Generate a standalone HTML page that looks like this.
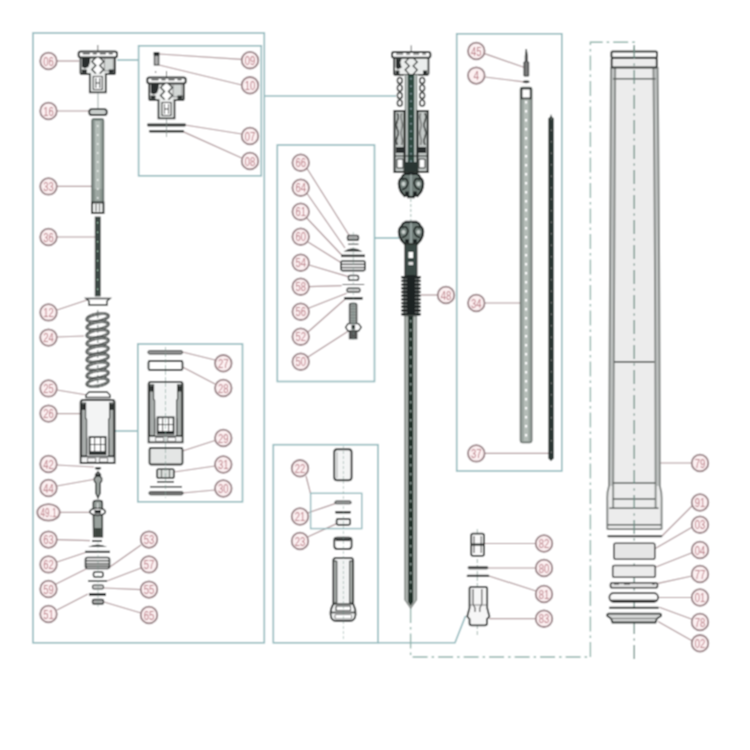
<!DOCTYPE html>
<html><head><meta charset="utf-8"><style>
html,body{margin:0;padding:0;background:#fff;}
svg{display:block;}
text{font-family:"Liberation Sans",sans-serif;}
</style></head><body>
<svg width="750" height="750" viewBox="0 0 750 750">
<defs><filter id="bl" x="0" y="0" width="1" height="1"><feConvolveMatrix order="3" kernelMatrix="1 2 1 2 4 2 1 2 1" divisor="16" edgeMode="duplicate"/></filter></defs>
<g filter="url(#bl)">
<rect width="750" height="750" fill="#fff"/>
<rect x="33" y="33" width="231.3" height="609.8" fill="none" stroke="#92b9bd" stroke-width="1.6" />
<rect x="138.6" y="45.8" width="122.70000000000002" height="130.0" fill="none" stroke="#92b9bd" stroke-width="1.6" />
<line x1="117" y1="60" x2="138.6" y2="60" stroke="#92b9bd" stroke-width="1.6" />
<rect x="137.8" y="344" width="104.69999999999999" height="157.8" fill="none" stroke="#92b9bd" stroke-width="1.6" />
<line x1="114" y1="431" x2="137.8" y2="431" stroke="#92b9bd" stroke-width="1.6" />
<rect x="277.3" y="145" width="97.19999999999999" height="236.5" fill="none" stroke="#92b9bd" stroke-width="1.6" />
<line x1="374.5" y1="238" x2="399" y2="238" stroke="#92b9bd" stroke-width="1.6" />
<line x1="264.3" y1="96" x2="396" y2="96" stroke="#92b9bd" stroke-width="1.6" />
<rect x="273.3" y="444.7" width="104.69999999999999" height="198.09999999999997" fill="none" stroke="#92b9bd" stroke-width="1.6" />
<polyline points="378,642.8 455,642.8 465.5,616" fill="none" stroke="#92b9bd" stroke-width="1.6" />
<rect x="456.7" y="33.8" width="105.09999999999997" height="437.2" fill="none" stroke="#92b9bd" stroke-width="1.6" />
<polyline points="590.4,657 590.4,42.3 634.3,42.3 634.3,50" fill="none" stroke="#8fb3aa" stroke-width="1.4" stroke-dasharray="15,4,2.5,4"/>
<polyline points="410.6,608 410.6,657 590.4,657" fill="none" stroke="#8fb3aa" stroke-width="1.4" stroke-dasharray="15,4,2.5,4"/>
<polyline points="56.8,61 79,61" fill="none" stroke="#ae9598" stroke-width="1.2" />
<polyline points="56.8,111 89,111" fill="none" stroke="#ae9598" stroke-width="1.2" />
<polyline points="56.8,186.4 92,186.4" fill="none" stroke="#ae9598" stroke-width="1.2" />
<polyline points="56.8,237 95,237" fill="none" stroke="#ae9598" stroke-width="1.2" />
<polyline points="57,310 87,300" fill="none" stroke="#ae9598" stroke-width="1.2" />
<polyline points="56.8,337 84,336" fill="none" stroke="#ae9598" stroke-width="1.2" />
<polyline points="57,390 87,395" fill="none" stroke="#ae9598" stroke-width="1.2" />
<polyline points="56.8,413.6 80,413.6" fill="none" stroke="#ae9598" stroke-width="1.2" />
<polyline points="56.8,465 94,467" fill="none" stroke="#ae9598" stroke-width="1.2" />
<polyline points="56.8,486 96,479" fill="none" stroke="#ae9598" stroke-width="1.2" />
<polyline points="59.5,512.4 90,512.4" fill="none" stroke="#ae9598" stroke-width="1.2" />
<polyline points="56.8,539.6 90,540.6" fill="none" stroke="#ae9598" stroke-width="1.2" />
<polyline points="57,562 87,552" fill="none" stroke="#ae9598" stroke-width="1.2" />
<polyline points="54,585 88,568" fill="none" stroke="#ae9598" stroke-width="1.2" />
<polyline points="57,610 88,594" fill="none" stroke="#ae9598" stroke-width="1.2" />
<polyline points="141,545 107,569" fill="none" stroke="#ae9598" stroke-width="1.2" />
<polyline points="141,568 107,581" fill="none" stroke="#ae9598" stroke-width="1.2" />
<polyline points="141,589.6 104,588" fill="none" stroke="#ae9598" stroke-width="1.2" />
<polyline points="141,613 104,602" fill="none" stroke="#ae9598" stroke-width="1.2" />
<polyline points="159,54 241.7,59.4" fill="none" stroke="#ae9598" stroke-width="1.2" />
<polyline points="159,65 241.7,85" fill="none" stroke="#ae9598" stroke-width="1.2" />
<polyline points="185,125 241.7,134" fill="none" stroke="#ae9598" stroke-width="1.2" />
<polyline points="183,131.6 241.7,158" fill="none" stroke="#ae9598" stroke-width="1.2" />
<polyline points="182.5,352 215,360" fill="none" stroke="#ae9598" stroke-width="1.2" />
<polyline points="182.5,367 215,384" fill="none" stroke="#ae9598" stroke-width="1.2" />
<polyline points="182.5,451 215,440.5" fill="none" stroke="#ae9598" stroke-width="1.2" />
<polyline points="174,472 215,466" fill="none" stroke="#ae9598" stroke-width="1.2" />
<polyline points="182.5,493 215,490" fill="none" stroke="#ae9598" stroke-width="1.2" />
<polyline points="306.7,168 350,236.7" fill="none" stroke="#ae9598" stroke-width="1.2" />
<polyline points="306.7,193 345,248" fill="none" stroke="#ae9598" stroke-width="1.2" />
<polyline points="306.7,218 341.7,255" fill="none" stroke="#ae9598" stroke-width="1.2" />
<polyline points="308,242 341.7,263" fill="none" stroke="#ae9598" stroke-width="1.2" />
<polyline points="309,265 348.3,276.7" fill="none" stroke="#ae9598" stroke-width="1.2" />
<polyline points="309,286.7 341.7,285.7" fill="none" stroke="#ae9598" stroke-width="1.2" />
<polyline points="309,308 346.7,293.3" fill="none" stroke="#ae9598" stroke-width="1.2" />
<polyline points="308,332 345,299.3" fill="none" stroke="#ae9598" stroke-width="1.2" />
<polyline points="308,357 350,330" fill="none" stroke="#ae9598" stroke-width="1.2" />
<polyline points="306,476 310.6,493.8" fill="none" stroke="#ae9598" stroke-width="1.2" />
<polyline points="307.5,513 335,503.6" fill="none" stroke="#ae9598" stroke-width="1.2" />
<polyline points="307.5,537 336.7,523.6" fill="none" stroke="#ae9598" stroke-width="1.2" />
<polyline points="421,295 437.7,295" fill="none" stroke="#ae9598" stroke-width="1.2" />
<polyline points="484.7,53.6 524.5,67.5" fill="none" stroke="#ae9598" stroke-width="1.2" />
<polyline points="484.7,77 523.7,81.8" fill="none" stroke="#ae9598" stroke-width="1.2" />
<polyline points="484.6,303 523.6,303" fill="none" stroke="#ae9598" stroke-width="1.2" />
<polyline points="484.6,453.4 549.7,453.4" fill="none" stroke="#ae9598" stroke-width="1.2" />
<polyline points="484,543.5 535.7,543.5" fill="none" stroke="#ae9598" stroke-width="1.2" />
<polyline points="488,568 535.7,568" fill="none" stroke="#ae9598" stroke-width="1.2" />
<polyline points="489,576 536,591" fill="none" stroke="#ae9598" stroke-width="1.2" />
<polyline points="489.3,618.7 535.7,618.7" fill="none" stroke="#ae9598" stroke-width="1.2" />
<polyline points="655,463 691.7,463" fill="none" stroke="#ae9598" stroke-width="1.2" />
<polyline points="662,536 692,506" fill="none" stroke="#ae9598" stroke-width="1.2" />
<polyline points="654.8,548.7 692,527.3" fill="none" stroke="#ae9598" stroke-width="1.2" />
<polyline points="655.3,567.3 692,552.7" fill="none" stroke="#ae9598" stroke-width="1.2" />
<polyline points="658,583.3 692,576" fill="none" stroke="#ae9598" stroke-width="1.2" />
<polyline points="658,597.5 691.7,597.5" fill="none" stroke="#ae9598" stroke-width="1.2" />
<polyline points="659.3,607.3 692,619.3" fill="none" stroke="#ae9598" stroke-width="1.2" />
<polyline points="658,621.5 692,640.7" fill="none" stroke="#ae9598" stroke-width="1.2" />
<g transform="translate(97.8,51)">
<path d="M-17.3,6 V21.5 Q-17.3,23.2 -15.5,23.2 H-8 V41.3 H8 V23.2 H15.5 Q17.3,23.2 17.3,21.5 V6" fill="#eceeed" stroke="#2b2f2d" stroke-width="1.8"/>
<rect x="-19.2" y="0.6" width="38.4" height="5.8" rx="2.2" fill="#fff" stroke="#2b2f2d" stroke-width="2"/>
<path d="M-15,2.6 h7 M-5,2.6 h4 M2,2.6 h6 M11,2.6 h4" stroke="#2b2f2d" stroke-width="1.1"/>
<rect x="6.5" y="7.5" width="9" height="12.5" fill="#d3d7d5" stroke="#777" stroke-width="0.8"/>
<path d="M-15.8,6.5 L-7.5,6.5 L-8,12 L-9.5,16 L-13,17.5 L-15.8,16 Z" fill="#2b2f2d"/>
<path d="M-16,18.5 h5 v4 h-5z M11,18.5 h5 v4 h-5z" fill="#2b2f2d"/>
<path d="M-2,6.5 L-6,10.5 -2,14.5 -6,18.5 -2,22.5 M2,6.5 L6,10.5 2,14.5 6,18.5 2,22.5" fill="none" stroke="#2b2f2d" stroke-width="1.3"/>
<path d="M-0.5,6.5 L-4,10.5 -0.5,14.5 -4,18.5 -0.5,22.5 H0.5 L4,18.5 0.5,14.5 4,10.5 0.5,6.5 Z" fill="#fff"/>
<rect x="-4.5" y="25.5" width="9" height="13" fill="#fff" stroke="#2b2f2d" stroke-width="1.1"/>
<path d="M-2,27 V37 M2,27 V37 M-2,32 H2" stroke="#2b2f2d" stroke-width="0.9"/>
<line x1="0" y1="-6" x2="0" y2="0.5" stroke="#2b2f2d" stroke-width="0.7"/>
</g>
<g transform="translate(166.5,77)">
<path d="M-17.3,6 V21.5 Q-17.3,23.2 -15.5,23.2 H-8 V41.3 H8 V23.2 H15.5 Q17.3,23.2 17.3,21.5 V6" fill="#eceeed" stroke="#2b2f2d" stroke-width="1.8"/>
<rect x="-19.2" y="0.6" width="38.4" height="5.8" rx="2.2" fill="#fff" stroke="#2b2f2d" stroke-width="2"/>
<path d="M-15,2.6 h7 M-5,2.6 h4 M2,2.6 h6 M11,2.6 h4" stroke="#2b2f2d" stroke-width="1.1"/>
<rect x="6.5" y="7.5" width="9" height="12.5" fill="#d3d7d5" stroke="#777" stroke-width="0.8"/>
<path d="M-15.8,6.5 L-7.5,6.5 L-8,12 L-9.5,16 L-13,17.5 L-15.8,16 Z" fill="#2b2f2d"/>
<path d="M-16,18.5 h5 v4 h-5z M11,18.5 h5 v4 h-5z" fill="#2b2f2d"/>
<path d="M-2,6.5 L-6,10.5 -2,14.5 -6,18.5 -2,22.5 M2,6.5 L6,10.5 2,14.5 6,18.5 2,22.5" fill="none" stroke="#2b2f2d" stroke-width="1.3"/>
<path d="M-0.5,6.5 L-4,10.5 -0.5,14.5 -4,18.5 -0.5,22.5 H0.5 L4,18.5 0.5,14.5 4,10.5 0.5,6.5 Z" fill="#fff"/>
<rect x="-4.5" y="25.5" width="9" height="13" fill="#fff" stroke="#2b2f2d" stroke-width="1.1"/>
<path d="M-2,27 V37 M2,27 V37 M-2,32 H2" stroke="#2b2f2d" stroke-width="0.9"/>
<line x1="0" y1="-6" x2="0" y2="0.5" stroke="#2b2f2d" stroke-width="0.7"/>
</g>
<line x1="98" y1="93" x2="98" y2="109" stroke="#7a8a85" stroke-width="0.7" />
<rect x="89.2" y="109.2" width="17.6" height="5.8" rx="2.6" fill="#c9cecc" stroke="#2b2f2d" stroke-width="1.8"/>
<rect x="92" y="119" width="11.5" height="84" rx="1.5" fill="#8f9a95" stroke="#56625d" stroke-width="1.4"/>
<rect x="95" y="121" width="5.5" height="80" fill="#b4bdb8"/>
<line x1="92.5" y1="190" x2="103" y2="190" stroke="#6d7873" stroke-width="0.6" />
<line x1="92.5" y1="192" x2="103" y2="192" stroke="#6d7873" stroke-width="0.6" />
<line x1="92.5" y1="194" x2="103" y2="194" stroke="#6d7873" stroke-width="0.6" />
<line x1="92.5" y1="196" x2="103" y2="196" stroke="#6d7873" stroke-width="0.6" />
<line x1="92.5" y1="198" x2="103" y2="198" stroke="#6d7873" stroke-width="0.6" />
<line x1="92.5" y1="200" x2="103" y2="200" stroke="#6d7873" stroke-width="0.6" />
<rect x="92" y="202.5" width="11.5" height="10.5" fill="#eef0ef" stroke="#2b2f2d" stroke-width="1.9"/>
<path d="M96,204 V211.5 M99.5,204 V211.5" stroke="#555" stroke-width="0.9"/>
<line x1="97.8" y1="125" x2="97.8" y2="200" stroke="#fff" stroke-width="1" stroke-dasharray="2,7"/>
<rect x="95.2" y="217" width="5" height="79" fill="#3d4a45" stroke="#2a302e" stroke-width="0.8"/>
<line x1="97.7" y1="222" x2="97.7" y2="294" stroke="#cfd" stroke-width="0.8" stroke-dasharray="1.5,8"/>
<path d="M86,298.5 H110 L107,301 V305 H89 V301 Z" fill="#fff" stroke="#2b2f2d" stroke-width="1.4"/>
<line x1="97.8" y1="310" x2="97.8" y2="390" stroke="#55635d" stroke-width="0.8" stroke-dasharray="3,2"/>
<ellipse cx="97.6" cy="317.60" rx="10.9" ry="3.7" transform="rotate(-10 97.6 317.60)" fill="none" stroke="#2b2f2d" stroke-width="2.9"/>
<ellipse cx="97.6" cy="317.60" rx="10.9" ry="3.7" transform="rotate(-10 97.6 317.60)" fill="none" stroke="#b3b8b6" stroke-width="0.9"/>
<ellipse cx="97.6" cy="325.70" rx="10.9" ry="3.7" transform="rotate(-10 97.6 325.70)" fill="none" stroke="#2b2f2d" stroke-width="2.9"/>
<ellipse cx="97.6" cy="325.70" rx="10.9" ry="3.7" transform="rotate(-10 97.6 325.70)" fill="none" stroke="#b3b8b6" stroke-width="0.9"/>
<ellipse cx="97.6" cy="333.80" rx="10.9" ry="3.7" transform="rotate(-10 97.6 333.80)" fill="none" stroke="#2b2f2d" stroke-width="2.9"/>
<ellipse cx="97.6" cy="333.80" rx="10.9" ry="3.7" transform="rotate(-10 97.6 333.80)" fill="none" stroke="#b3b8b6" stroke-width="0.9"/>
<ellipse cx="97.6" cy="341.90" rx="10.9" ry="3.7" transform="rotate(-10 97.6 341.90)" fill="none" stroke="#2b2f2d" stroke-width="2.9"/>
<ellipse cx="97.6" cy="341.90" rx="10.9" ry="3.7" transform="rotate(-10 97.6 341.90)" fill="none" stroke="#b3b8b6" stroke-width="0.9"/>
<ellipse cx="97.6" cy="350.00" rx="10.9" ry="3.7" transform="rotate(-10 97.6 350.00)" fill="none" stroke="#2b2f2d" stroke-width="2.9"/>
<ellipse cx="97.6" cy="350.00" rx="10.9" ry="3.7" transform="rotate(-10 97.6 350.00)" fill="none" stroke="#b3b8b6" stroke-width="0.9"/>
<ellipse cx="97.6" cy="358.10" rx="10.9" ry="3.7" transform="rotate(-10 97.6 358.10)" fill="none" stroke="#2b2f2d" stroke-width="2.9"/>
<ellipse cx="97.6" cy="358.10" rx="10.9" ry="3.7" transform="rotate(-10 97.6 358.10)" fill="none" stroke="#b3b8b6" stroke-width="0.9"/>
<ellipse cx="97.6" cy="366.20" rx="10.9" ry="3.7" transform="rotate(-10 97.6 366.20)" fill="none" stroke="#2b2f2d" stroke-width="2.9"/>
<ellipse cx="97.6" cy="366.20" rx="10.9" ry="3.7" transform="rotate(-10 97.6 366.20)" fill="none" stroke="#b3b8b6" stroke-width="0.9"/>
<ellipse cx="97.6" cy="374.30" rx="10.9" ry="3.7" transform="rotate(-10 97.6 374.30)" fill="none" stroke="#2b2f2d" stroke-width="2.9"/>
<ellipse cx="97.6" cy="374.30" rx="10.9" ry="3.7" transform="rotate(-10 97.6 374.30)" fill="none" stroke="#b3b8b6" stroke-width="0.9"/>
<ellipse cx="97.6" cy="382.40" rx="10.9" ry="3.7" transform="rotate(-10 97.6 382.40)" fill="none" stroke="#2b2f2d" stroke-width="2.9"/>
<ellipse cx="97.6" cy="382.40" rx="10.9" ry="3.7" transform="rotate(-10 97.6 382.40)" fill="none" stroke="#b3b8b6" stroke-width="0.9"/>
<path d="M89,392 H107 L110,395 V397.5 H86 V395 Z" fill="#fff" stroke="#2b2f2d" stroke-width="1.4"/>
<g transform="translate(80.6,400) scale(1,1.0000)">
<path d="M2.5,0 H31.5 Q34,0 34,2.5 V63 H0 V2.5 Q0,0 2.5,0 Z" fill="#f3f4f4" stroke="#2b2f2d" stroke-width="1.8"/>
<path d="M0.9,3 H5 V18 L6,19.5 V56 H0.9 Z M33.1,3 H29 V18 L28,19.5 V56 H33.1 Z" fill="#a9adab" stroke="#2b2f2d" stroke-width="1.1"/>
<path d="M1.5,4 h3 v6 h-3z M29.5,4 h3 v6 h-3z" fill="#2b2f2d"/>
<path d="M6,38 V54 M28,38 V54" stroke="#2b2f2d" stroke-width="1.2"/>
<rect x="9" y="37" width="16" height="17" fill="#fff" stroke="#2b2f2d" stroke-width="1.8"/>
<path d="M14,38 V51 M20,38 V51 M9,44.5 H25" stroke="#2b2f2d" stroke-width="1"/>
<rect x="9" y="51.2" width="16" height="2.6" fill="#2b2f2d"/>
<path d="M0,56.5 H34" stroke="#2b2f2d" stroke-width="1.3"/>
<path d="M7,58 h8 v4 h-8z M19,58 h8 v4 h-8z" fill="#fff" stroke="#555" stroke-width="0.8"/>
</g>
<ellipse cx="98" cy="468.3" rx="3.2" ry="1.4" fill="#2b2f2d"/>
<path d="M98,471.8 L100.5,474.5 V477 L101.7,478 V481 L100.2,483 V493 L98,498 L95.8,493 V483 L94.3,481 V478 L95.5,477 V474.5 Z" fill="#9ea4a1" stroke="#2b2f2d" stroke-width="1.3"/>
<rect x="96.2" y="474" width="3.6" height="3" fill="#2b2f2d"/>
<path d="M93.3,503 Q93.3,500.5 96,500.5 H99.8 Q102.3,500.5 102.3,503 V536.8 H93.7 Z" fill="#98a09c" stroke="#2b2f2d" stroke-width="1.6"/>
<ellipse cx="97.6" cy="511.8" rx="7.8" ry="3.6" fill="#fff" stroke="#2b2f2d" stroke-width="1.6"/>
<rect x="94.5" y="510" width="6.5" height="3.6" fill="#2b2f2d"/>
<rect x="94.3" y="528" width="7" height="8.5" fill="#3c4541"/>
<line x1="97.7" y1="503" x2="97.7" y2="508" stroke="#ddd" stroke-width="1.2" />
<rect x="92" y="540" width="10" height="1.8" fill="#2b2f2d"/>
<path d="M88,547 Q98,542 107,547 Z" fill="#2b2f2d"/>
<rect x="85" y="550.8" width="25" height="2.2" fill="#2b2f2d"/>
<rect x="85.5" y="557.5" width="24" height="11" rx="2" fill="#f2f2f2" stroke="#2b2f2d" stroke-width="1.6"/>
<line x1="86" y1="560.8" x2="109" y2="560.8" stroke="#2b2f2d" stroke-width="1.2" />
<line x1="86" y1="563.8" x2="109" y2="563.8" stroke="#2b2f2d" stroke-width="1.2" />
<line x1="86" y1="566.2" x2="109" y2="566.2" stroke="#2b2f2d" stroke-width="1.2" />
<rect x="93.5" y="572" width="9.5" height="5" rx="1.5" fill="#fff" stroke="#2b2f2d" stroke-width="1.6"/>
<rect x="88" y="580.3" width="19" height="1.5" fill="#2b2f2d"/>
<rect x="92.5" y="585" width="11" height="4" rx="1.5" fill="#ccc" stroke="#2b2f2d" stroke-width="1.2"/>
<rect x="89" y="593" width="17" height="2.8" fill="#2b2f2d"/>
<rect x="92.5" y="599.5" width="11" height="4.5" rx="1.5" fill="#aaa" stroke="#2b2f2d" stroke-width="1.4"/>
<line x1="98" y1="540" x2="98" y2="607" stroke="#7a9c92" stroke-width="0.5" stroke-dasharray="3,2"/>
<rect x="153.5" y="52" width="6" height="3.5" rx="1" fill="#2b2f2d"/>
<rect x="154.3" y="55.5" width="4.5" height="9.5" fill="#aaa" stroke="#2b2f2d" stroke-width="1"/>
<circle cx="155.6" cy="72" r="0.8" fill="#555"/>
<rect x="147" y="123.6" width="39" height="2.8" rx="1.3" fill="#2b2f2d"/>
<rect x="149" y="130" width="35" height="2.5" rx="1.2" fill="#2b2f2d"/>
<line x1="166.5" y1="119" x2="166.5" y2="137" stroke="#7a8a85" stroke-width="0.7" />
<rect x="148" y="350.6" width="34.5" height="3.4" rx="1.5" fill="#999" stroke="#2b2f2d" stroke-width="1"/>
<rect x="148.5" y="361" width="34" height="9" rx="1.5" fill="#fff" stroke="#2b2f2d" stroke-width="1.8"/>
<g transform="translate(148.6,381.8) scale(1,0.9603)">
<path d="M2.5,0 H31.5 Q34,0 34,2.5 V63 H0 V2.5 Q0,0 2.5,0 Z" fill="#f3f4f4" stroke="#2b2f2d" stroke-width="1.8"/>
<path d="M0.9,3 H5 V18 L6,19.5 V56 H0.9 Z M33.1,3 H29 V18 L28,19.5 V56 H33.1 Z" fill="#a9adab" stroke="#2b2f2d" stroke-width="1.1"/>
<path d="M1.5,4 h3 v6 h-3z M29.5,4 h3 v6 h-3z" fill="#2b2f2d"/>
<path d="M6,38 V54 M28,38 V54" stroke="#2b2f2d" stroke-width="1.2"/>
<rect x="9" y="37" width="16" height="17" fill="#fff" stroke="#2b2f2d" stroke-width="1.8"/>
<path d="M14,38 V51 M20,38 V51 M9,44.5 H25" stroke="#2b2f2d" stroke-width="1"/>
<rect x="9" y="51.2" width="16" height="2.6" fill="#2b2f2d"/>
<path d="M0,56.5 H34" stroke="#2b2f2d" stroke-width="1.3"/>
<path d="M7,58 h8 v4 h-8z M19,58 h8 v4 h-8z" fill="#fff" stroke="#555" stroke-width="0.8"/>
</g>
<rect x="149.5" y="448" width="33" height="16.5" rx="1.5" fill="#e4e6e5" stroke="#2b2f2d" stroke-width="1.8"/>
<rect x="157" y="469" width="17" height="9" rx="1.8" fill="#d8dbd9" stroke="#2b2f2d" stroke-width="1.6"/>
<path d="M161.5,470 V477 M169.5,470 V477" stroke="#444" stroke-width="1"/>
<rect x="157" y="481" width="17" height="1.6" fill="#2b2f2d"/>
<rect x="150" y="486" width="32" height="1.5" fill="#2b2f2d"/>
<rect x="149" y="491.5" width="34" height="3.3" rx="1.5" fill="#777" stroke="#2b2f2d" stroke-width="1"/>
<line x1="165.5" y1="347" x2="165.5" y2="498" stroke="#7a9c92" stroke-width="0.6" stroke-dasharray="4,2"/>
<rect x="347.5" y="235.4" width="11" height="4.8" rx="1.5" fill="#aaa" stroke="#2b2f2d" stroke-width="1.4"/>
<line x1="348" y1="244.2" x2="358.5" y2="244.2" stroke="#2b2f2d" stroke-width="1" />
<path d="M343.5,251.5 Q353,245 362.5,251.5 Z" fill="#2b2f2d"/>
<rect x="341" y="254.6" width="24" height="2.5" fill="#2b2f2d"/>
<rect x="341" y="261" width="24" height="9.6" rx="1.5" fill="#f2f2f2" stroke="#2b2f2d" stroke-width="1.6"/>
<line x1="341" y1="264.3" x2="365" y2="264.3" stroke="#2b2f2d" stroke-width="1.2" />
<line x1="341" y1="267.5" x2="365" y2="267.5" stroke="#2b2f2d" stroke-width="1.2" />
<rect x="348.5" y="275.4" width="10" height="4.8" rx="1.5" fill="#fff" stroke="#2b2f2d" stroke-width="1.5"/>
<line x1="342.6" y1="284.5" x2="364.2" y2="284.5" stroke="#2b2f2d" stroke-width="1" />
<rect x="347" y="288.2" width="13" height="4" rx="1.5" fill="#ccc" stroke="#2b2f2d" stroke-width="1.2"/>
<rect x="344.2" y="297" width="18.4" height="2.6" fill="#2b2f2d"/>
<path d="M349.5,304.5 Q349.5,303.4 351,303.4 H355.2 Q356.7,303.4 356.7,304.5 V338.6 H349.5 Z" fill="#9aa29e" stroke="#2b2f2d" stroke-width="1.3"/>
<line x1="349.8" y1="306" x2="356.4" y2="306" stroke="#666" stroke-width="0.7" />
<line x1="349.8" y1="309" x2="356.4" y2="309" stroke="#666" stroke-width="0.7" />
<line x1="349.8" y1="312" x2="356.4" y2="312" stroke="#666" stroke-width="0.7" />
<line x1="349.8" y1="315" x2="356.4" y2="315" stroke="#666" stroke-width="0.7" />
<line x1="349.8" y1="318" x2="356.4" y2="318" stroke="#666" stroke-width="0.7" />
<line x1="349.8" y1="321" x2="356.4" y2="321" stroke="#666" stroke-width="0.7" />
<path d="M348,323.6 H358.6 L361.2,327.3 L358.6,331 H348 L345.6,327.3 Z" fill="#fff" stroke="#2b2f2d" stroke-width="1.4"/>
<rect x="351.5" y="325" width="3.6" height="4.5" fill="#2b2f2d"/>
<rect x="349.8" y="332" width="6.6" height="6.4" fill="#555"/>
<line x1="353.3" y1="232" x2="353.3" y2="342" stroke="#7a9c92" stroke-width="0.5" stroke-dasharray="3,2"/>
<rect x="334.2" y="449.3" width="17.4" height="31" rx="3" fill="#f4f5f5" stroke="#2b2f2d" stroke-width="1.9"/>
<line x1="337" y1="452" x2="337" y2="478" stroke="#999" stroke-width="0.8" />
<rect x="310.6" y="493.3" width="51.19999999999999" height="35.30000000000001" fill="none" stroke="#92b9bd" stroke-width="1.4" />
<rect x="335" y="501" width="16" height="2.8" rx="1.4" fill="#aaa" stroke="#2b2f2d" stroke-width="1.1"/>
<rect x="335" y="511" width="16" height="2.4" rx="1.2" fill="#2b2f2d"/>
<rect x="336.6" y="518.8" width="13.6" height="6" rx="1.5" fill="#f4f4f4" stroke="#2b2f2d" stroke-width="1.7"/>
<path d="M334.3,540 Q334.3,537.6 337,537.6 H349 Q351.6,537.6 351.6,540 V546 Q351.6,549 348.6,549 H337.3 Q334.3,549 334.3,546 Z" fill="#fff" stroke="#2b2f2d" stroke-width="1.8"/>
<rect x="335.5" y="538.5" width="15" height="2.6" fill="#2b2f2d"/>
<path d="M333.3,560.5 Q333.3,557.8 336,557.8 H350.5 Q353.2,557.8 353.2,560.5 V604 Q356,609 355.6,614.5 Q355,621 349.5,621 H336.5 Q331,621 330.6,614.5 Q330.2,609 333.3,604 Z" fill="#f2f3f3" stroke="#2b2f2d" stroke-width="1.8"/>
<path d="M333.6,561 H336.8 V603 H333.6 Z M352.8,561 H349.6 V603 H352.8 Z" fill="#a9adab" stroke="#2b2f2d" stroke-width="1"/>
<line x1="333" y1="604" x2="353.5" y2="604" stroke="#2b2f2d" stroke-width="1.4" />
<rect x="336" y="606" width="14.5" height="4.5" fill="#fff" stroke="#2b2f2d" stroke-width="1"/>
<line x1="331.5" y1="612.5" x2="355" y2="612.5" stroke="#2b2f2d" stroke-width="1.6" />
<rect x="335" y="614.5" width="16.5" height="4.5" rx="1" fill="#fff" stroke="#555" stroke-width="0.8"/>
<line x1="343.4" y1="446" x2="343.4" y2="640" stroke="#7a9c92" stroke-width="0.5" stroke-dasharray="3,2"/>
<path d="M-17.3,6 V21.5 Q-17.3,23.4 -15.5,23.4 H15.5 Q17.3,23.4 17.3,21.5 V6" transform="translate(411.2,51.4)" fill="#eceeed" stroke="#2b2f2d" stroke-width="1.8"/>
<g transform="translate(411.2,51.4)"><rect x="-19.2" y="0.6" width="38.4" height="5.8" rx="2.2" fill="#fff" stroke="#2b2f2d" stroke-width="2"/><path d="M-15,2.6 h7 M-5,2.6 h4 M2,2.6 h6 M11,2.6 h4" stroke="#2b2f2d" stroke-width="1.1"/><path d="M-15.5,7 L-9.5,7 L-11,11 L-9.5,16 L-13.5,18 L-15.5,16 Z" fill="#2b2f2d"/><path d="M-15.8,19 h4 v4 h-4z M11.8,19 h4 v4 h-4z" fill="#2b2f2d"/><path d="M-2,6.5 L-6,10.5 -2,14.5 -6,18.5 -2,23 M2,6.5 L6,10.5 2,14.5 6,18.5 2,23" fill="none" stroke="#2b2f2d" stroke-width="1.3"/><line x1="0" y1="-6" x2="0" y2="0.5" stroke="#2b2f2d" stroke-width="0.7"/></g>
<rect x="404" y="75" width="14" height="98" fill="#dde1df"/>
<path d="M405.6,75 V173 M416.4,75 V173" stroke="#6d7672" stroke-width="1.2"/>
<rect x="407.6" y="75" width="6.8" height="98" fill="#2f4840"/>
<line x1="411" y1="78" x2="411" y2="170" stroke="#cde" stroke-width="0.9" stroke-dasharray="1.5,6"/>
<ellipse cx="399.8" cy="80.5" rx="2.4" ry="3.1" fill="#fff" stroke="#2b2f2d" stroke-width="1.5"/>
<ellipse cx="399.8" cy="88" rx="2.4" ry="3.1" fill="#fff" stroke="#2b2f2d" stroke-width="1.5"/>
<ellipse cx="399.8" cy="95.5" rx="2.4" ry="3.1" fill="#fff" stroke="#2b2f2d" stroke-width="1.5"/>
<ellipse cx="399.8" cy="103" rx="2.4" ry="3.1" fill="#fff" stroke="#2b2f2d" stroke-width="1.5"/>
<ellipse cx="422.2" cy="80.5" rx="2.4" ry="3.1" fill="#fff" stroke="#2b2f2d" stroke-width="1.5"/>
<ellipse cx="422.2" cy="88" rx="2.4" ry="3.1" fill="#fff" stroke="#2b2f2d" stroke-width="1.5"/>
<ellipse cx="422.2" cy="95.5" rx="2.4" ry="3.1" fill="#fff" stroke="#2b2f2d" stroke-width="1.5"/>
<ellipse cx="422.2" cy="103" rx="2.4" ry="3.1" fill="#fff" stroke="#2b2f2d" stroke-width="1.5"/>
<path d="M394.5,111 H404.5 V172 H394.5 Z M417.5,111 H427.7 V172 H417.5 Z" fill="#c4c9c7" stroke="#2b2f2d" stroke-width="2.1"/>
<path d="M397.3,113 q2,4 0,8 q-2,4 0,8 q2,4 0,8 q-2,4 0,8" fill="none" stroke="#2b2f2d" stroke-width="1.4"/>
<path d="M424.9,113 q2,4 0,8 q-2,4 0,8 q2,4 0,8 q-2,4 0,8" fill="none" stroke="#2b2f2d" stroke-width="1.4"/>
<path d="M401.6,113 q-1.5,4 0,8 q1.5,4 0,8 q-1.5,4 0,8 q1.5,4 0,8" fill="none" stroke="#555" stroke-width="1.1"/>
<path d="M420.6,113 q-1.5,4 0,8 q1.5,4 0,8 q-1.5,4 0,8 q1.5,4 0,8" fill="none" stroke="#555" stroke-width="1.1"/>
<path d="M396,147 h8 v6 h-8z M418,147 h8 v6 h-8z" fill="#2b2f2d"/>
<line x1="394.5" y1="156" x2="427.7" y2="156" stroke="#2b2f2d" stroke-width="1.2" />
<path d="M397,159 h6 v9 h-6z M419,159 h6 v9 h-6z" fill="#fff" stroke="#2b2f2d" stroke-width="1"/>
<rect x="404.5" y="162" width="13" height="10" fill="#2c3431"/>
<line x1="394.5" y1="172" x2="427.7" y2="172" stroke="#2b2f2d" stroke-width="1.6" />
<g transform="translate(411,173.2) scale(1,1.08)">
<path d="M-5.5,0.5 H5.5 Q8.5,1.5 9.5,4.5 Q12.5,6.5 12,11 Q11.5,16 8,19.5 Q6.5,22 4.5,22 H-4.5 Q-6.5,22 -8,19.5 Q-11.5,16 -12,11 Q-12.5,6.5 -9.5,4.5 Q-8.5,1.5 -5.5,0.5 Z" fill="#6f7d78" stroke="#1f2422" stroke-width="2.2"/>
<path d="M-9,6 Q-4,3 -3,9 Q-4,15 -9,15 M9,6 Q4,3 3,9 Q4,15 9,15" fill="none" stroke="#1f2422" stroke-width="1.6"/>
<circle cx="-7.5" cy="10" r="2" fill="#c8cfcc"/>
<circle cx="7.5" cy="10" r="2" fill="#c8cfcc"/>
<path d="M-6,17 h4 v4 h-4z M2,17 h4 v4 h-4z" fill="#1f2422"/>
<circle cx="-5" cy="23" r="1.5" fill="#fff"/>
<circle cx="5" cy="23" r="1.5" fill="#fff"/>
<line x1="0" y1="1" x2="0" y2="21" stroke="#b5c2bd" stroke-width="1"/>
</g>
<g transform="translate(411,221.5) scale(1,1.05)">
<path d="M-5.5,0.5 H5.5 Q8.5,1.5 9.5,4.5 Q12.5,6.5 12,11 Q11.5,16 8,19.5 Q6.5,22 4.5,22 H-4.5 Q-6.5,22 -8,19.5 Q-11.5,16 -12,11 Q-12.5,6.5 -9.5,4.5 Q-8.5,1.5 -5.5,0.5 Z" fill="#6f7d78" stroke="#1f2422" stroke-width="2.2"/>
<path d="M-9,6 Q-4,3 -3,9 Q-4,15 -9,15 M9,6 Q4,3 3,9 Q4,15 9,15" fill="none" stroke="#1f2422" stroke-width="1.6"/>
<circle cx="-7.5" cy="10" r="2" fill="#c8cfcc"/>
<circle cx="7.5" cy="10" r="2" fill="#c8cfcc"/>
<path d="M-6,17 h4 v4 h-4z M2,17 h4 v4 h-4z" fill="#1f2422"/>
<circle cx="-5" cy="23" r="1.5" fill="#fff"/>
<circle cx="5" cy="23" r="1.5" fill="#fff"/>
<line x1="0" y1="1" x2="0" y2="21" stroke="#b5c2bd" stroke-width="1"/>
</g>
<line x1="410.8" y1="199" x2="410.8" y2="221" stroke="#7a9c92" stroke-width="0.7" stroke-dasharray="3,2"/>
<path d="M405,244 H416.8 V276 H405 Z" fill="#3b4a44" stroke="#2b2f2d" stroke-width="1.3"/>
<rect x="408.5" y="252" width="4.6" height="6" fill="#fff"/>
<rect x="408.5" y="262" width="4.6" height="3" fill="#ddd"/>
<rect x="403" y="276" width="16" height="40" fill="#6b716e"/>
<rect x="401" y="276" width="20" height="2.4" rx="1.2" fill="#1f2322"/>
<rect x="401" y="279.7" width="20" height="2.4" rx="1.2" fill="#1f2322"/>
<rect x="401" y="283.4" width="20" height="2.4" rx="1.2" fill="#1f2322"/>
<rect x="401" y="287.09999999999997" width="20" height="2.4" rx="1.2" fill="#1f2322"/>
<rect x="401" y="290.79999999999995" width="20" height="2.4" rx="1.2" fill="#1f2322"/>
<rect x="401" y="294.49999999999994" width="20" height="2.4" rx="1.2" fill="#1f2322"/>
<rect x="401" y="298.19999999999993" width="20" height="2.4" rx="1.2" fill="#1f2322"/>
<rect x="401" y="301.8999999999999" width="20" height="2.4" rx="1.2" fill="#1f2322"/>
<rect x="401" y="305.5999999999999" width="20" height="2.4" rx="1.2" fill="#1f2322"/>
<rect x="401" y="309.2999999999999" width="20" height="2.4" rx="1.2" fill="#1f2322"/>
<rect x="401" y="312.9999999999999" width="20" height="2.4" rx="1.2" fill="#1f2322"/>
<rect x="407" y="275" width="8" height="42" fill="#1f2322"/>
<path d="M404.8,316 H416.6 V600 L410.7,608.5 L404.8,600 Z" fill="#abb1ad" stroke="#6e7571" stroke-width="1"/>
<path d="M408.2,316 H413.2 V602 L410.7,606 L408.2,602 Z" fill="#23312c"/>
<line x1="410.7" y1="320" x2="410.7" y2="598" stroke="#82938c" stroke-width="1.7" stroke-dasharray="2.5,6.5"/>
<path d="M526.3,49 L527.3,56 V62 H528.7 V76 H524 V62 H525.3 V56 Z" fill="#777" stroke="#2b2f2d" stroke-width="1"/>
<ellipse cx="526.2" cy="81.8" rx="3.4" ry="1.4" fill="#2b2f2d"/>
<rect x="520.4" y="87.4" width="11.4" height="355.2" rx="1.8" fill="#98a19c" stroke="#5f6964" stroke-width="1.3"/>
<rect x="523.6" y="98" width="5" height="343" fill="#b5bdb8"/>
<rect x="521.6" y="88.6" width="9" height="9.8" fill="#fff" stroke="#2b2f2d" stroke-width="1.6"/>
<line x1="526.1" y1="101" x2="526.1" y2="438" stroke="#fff" stroke-width="2" stroke-dasharray="2.6,6.4"/>
<path d="M548.3,118.5 L550.3,116.5 L551,114 L551.8,116.5 L553.8,118.5 V458.5 L551,461 L548.3,458.5 Z" fill="#2b3531"/>
<line x1="551.3" y1="118" x2="551.3" y2="455" stroke="#aaa" stroke-width="0.7" stroke-dasharray="1.5,10"/>
<line x1="477.3" y1="529" x2="477.3" y2="635" stroke="#8aa39b" stroke-width="0.8" stroke-dasharray="4,2"/>
<rect x="471.2" y="533.6" width="12.8" height="22.2" rx="1.8" fill="#fafafa" stroke="#2b2f2d" stroke-width="1.8"/>
<path d="M474,536 V553 M481.2,536 V553" stroke="#444" stroke-width="1"/>
<rect x="471.5" y="543.5" width="12.2" height="2.2" fill="#2b2f2d"/>
<rect x="468" y="566.5" width="20" height="2.5" rx="1.2" fill="#555" stroke="#2b2f2d" stroke-width="0.6"/>
<rect x="466.7" y="574.7" width="22.6" height="2.4" rx="1.2" fill="#2b2f2d"/>
<path d="M469.5,588.5 Q469.5,586.8 471.2,586.8 H485.5 Q487.2,586.8 487.2,588.5 V608 L489.4,616.5 L487,619 V623 Q487,625.3 485,625.3 H471.5 Q469.5,625.3 469.5,623 V619 L467.2,616.5 L469.5,608 Z" fill="#f6f6f6" stroke="#2b2f2d" stroke-width="1.8"/>
<path d="M473,589 V604 M481.8,589 V604" stroke="#444" stroke-width="1.1"/>
<path d="M473,604 L475,608 V612 M481.8,604 L479.8,608 V612" fill="none" stroke="#444" stroke-width="1.1"/>
<line x1="470" y1="605" x2="486.8" y2="605" stroke="#666" stroke-width="0.8" />
<path d="M611,67 Q609.2,250 609,486 L607.3,529.5 H661.6 L659.8,486 Q659.5,250 657.6,67 Z" fill="#ececec"/>
<path d="M611,67 Q609.2,250 609,486 L613.2,486 Q613.4,250 615.2,67 Z" fill="#c3c6c5"/>
<path d="M657.6,67 Q659.5,250 659.8,486 L655.6,486 Q655.3,250 653.4,67 Z" fill="#c3c6c5"/>
<path d="M611,67 Q609.2,250 609,486 Q607,492 607.3,500 V529.5" fill="none" stroke="#868a88" stroke-width="2"/>
<path d="M615.2,67 Q613.4,250 613.2,486 V508.3" fill="none" stroke="#868a88" stroke-width="1.9"/>
<path d="M657.6,67 Q659.5,250 659.8,486 Q661.8,492 661.6,500 V529.5" fill="none" stroke="#868a88" stroke-width="2"/>
<path d="M653.4,67 Q655.3,250 655.6,486 V508.3" fill="none" stroke="#868a88" stroke-width="1.9"/>
<rect x="611.6" y="58" width="45.2" height="9.6" rx="1.6" fill="#ececec" stroke="#2f3331" stroke-width="2"/>
<rect x="611.4" y="51.5" width="45.6" height="6.2" rx="1.2" fill="#fbfbfb" stroke="#2f3331" stroke-width="2"/>
<line x1="613" y1="78.8" x2="655.5" y2="78.8" stroke="#5d615f" stroke-width="1.6" />
<line x1="614" y1="361.9" x2="654.5" y2="361.9" stroke="#5d615f" stroke-width="1.6" />
<line x1="612.6" y1="483.1" x2="655.6" y2="483.1" stroke="#5d615f" stroke-width="1.5" />
<line x1="612.6" y1="499" x2="655.3" y2="499" stroke="#5d615f" stroke-width="1.5" />
<line x1="609.3" y1="508.3" x2="658.5" y2="508.3" stroke="#5d615f" stroke-width="1.5" />
<line x1="607.5" y1="524.7" x2="661.3" y2="524.7" stroke="#5d615f" stroke-width="1.5" />
<line x1="607.5" y1="529.3" x2="661.3" y2="529.3" stroke="#5d615f" stroke-width="1.5" />
<line x1="634.2" y1="45" x2="634.2" y2="660" stroke="#6e8f85" stroke-width="1.3" stroke-dasharray="14,4.5,2,4.5"/>
<rect x="607.3" y="535.3" width="55" height="2" rx="1" fill="#2b2f2d"/>
<rect x="614" y="543.3" width="40.8" height="16" rx="1.5" fill="#e6e6e6" stroke="#444" stroke-width="1.6"/>
<rect x="612.7" y="565.5" width="42.6" height="11.7" rx="1.5" fill="#ececec" stroke="#444" stroke-width="1.6"/>
<rect x="610.5" y="582.8" width="47" height="5" rx="1.8" fill="#e2e2e2" stroke="#333" stroke-width="1.6"/>
<path d="M614,584 h5 M624,584 h6 M652,584 h3" stroke="#333" stroke-width="1.2"/>
<rect x="609.4" y="593.2" width="48.6" height="8.6" rx="4" fill="#fafafa" stroke="#333" stroke-width="1.7"/>
<path d="M611,600.7 H657" stroke="#222" stroke-width="2"/>
<rect x="608.9" y="606.8" width="50" height="1.9" rx="0.9" fill="#2b2f2d"/>
<path d="M608.5,613.6 H659.8 Q661.6,614 661,616 L657,618.5 L655.5,622.5 H612.5 L611,618.5 L607.3,616 Q606.7,614 608.5,613.6 Z" fill="#d4d6d5" stroke="#2f3331" stroke-width="1.8"/>
<line x1="611" y1="618.5" x2="657" y2="618.5" stroke="#666" stroke-width="1.2" />
<circle cx="48.5" cy="61" r="8.3" fill="#fdf1f2" stroke="#977f83" stroke-width="1.8"/>
<text x="48.5" y="65.5" text-anchor="middle" font-size="12.8" fill="#b97a83" textLength="10.5" lengthAdjust="spacingAndGlyphs">06</text>
<circle cx="48.5" cy="111" r="8.3" fill="#fdf1f2" stroke="#977f83" stroke-width="1.8"/>
<text x="48.5" y="115.5" text-anchor="middle" font-size="12.8" fill="#b97a83" textLength="10.5" lengthAdjust="spacingAndGlyphs">16</text>
<circle cx="48.5" cy="186.4" r="8.3" fill="#fdf1f2" stroke="#977f83" stroke-width="1.8"/>
<text x="48.5" y="190.9" text-anchor="middle" font-size="12.8" fill="#b97a83" textLength="10.5" lengthAdjust="spacingAndGlyphs">33</text>
<circle cx="48.5" cy="237" r="8.3" fill="#fdf1f2" stroke="#977f83" stroke-width="1.8"/>
<text x="48.5" y="241.5" text-anchor="middle" font-size="12.8" fill="#b97a83" textLength="10.5" lengthAdjust="spacingAndGlyphs">36</text>
<circle cx="48.5" cy="312.4" r="8.3" fill="#fdf1f2" stroke="#977f83" stroke-width="1.8"/>
<text x="48.5" y="316.9" text-anchor="middle" font-size="12.8" fill="#b97a83" textLength="10.5" lengthAdjust="spacingAndGlyphs">12</text>
<circle cx="48.5" cy="337.6" r="8.3" fill="#fdf1f2" stroke="#977f83" stroke-width="1.8"/>
<text x="48.5" y="342.1" text-anchor="middle" font-size="12.8" fill="#b97a83" textLength="10.5" lengthAdjust="spacingAndGlyphs">24</text>
<circle cx="48.5" cy="388.4" r="8.3" fill="#fdf1f2" stroke="#977f83" stroke-width="1.8"/>
<text x="48.5" y="392.9" text-anchor="middle" font-size="12.8" fill="#b97a83" textLength="10.5" lengthAdjust="spacingAndGlyphs">25</text>
<circle cx="48.5" cy="413.6" r="8.3" fill="#fdf1f2" stroke="#977f83" stroke-width="1.8"/>
<text x="48.5" y="418.1" text-anchor="middle" font-size="12.8" fill="#b97a83" textLength="10.5" lengthAdjust="spacingAndGlyphs">26</text>
<circle cx="48.5" cy="464" r="8.3" fill="#fdf1f2" stroke="#977f83" stroke-width="1.8"/>
<text x="48.5" y="468.5" text-anchor="middle" font-size="12.8" fill="#b97a83" textLength="10.5" lengthAdjust="spacingAndGlyphs">42</text>
<circle cx="48.5" cy="488" r="8.3" fill="#fdf1f2" stroke="#977f83" stroke-width="1.8"/>
<text x="48.5" y="492.5" text-anchor="middle" font-size="12.8" fill="#b97a83" textLength="10.5" lengthAdjust="spacingAndGlyphs">44</text>
<ellipse cx="48.5" cy="512.4" rx="11.2" ry="8.3" fill="#fdf1f2" stroke="#977f83" stroke-width="1.8"/>
<text x="48.5" y="516.9" text-anchor="middle" font-size="12.8" fill="#b97a83" textLength="16" lengthAdjust="spacingAndGlyphs">49.1</text>
<circle cx="48.5" cy="539.6" r="8.3" fill="#fdf1f2" stroke="#977f83" stroke-width="1.8"/>
<text x="48.5" y="544.1" text-anchor="middle" font-size="12.8" fill="#b97a83" textLength="10.5" lengthAdjust="spacingAndGlyphs">63</text>
<circle cx="48.5" cy="564.4" r="8.3" fill="#fdf1f2" stroke="#977f83" stroke-width="1.8"/>
<text x="48.5" y="568.9" text-anchor="middle" font-size="12.8" fill="#b97a83" textLength="10.5" lengthAdjust="spacingAndGlyphs">62</text>
<circle cx="48.5" cy="589" r="8.3" fill="#fdf1f2" stroke="#977f83" stroke-width="1.8"/>
<text x="48.5" y="593.5" text-anchor="middle" font-size="12.8" fill="#b97a83" textLength="10.5" lengthAdjust="spacingAndGlyphs">59</text>
<circle cx="48.5" cy="614" r="8.3" fill="#fdf1f2" stroke="#977f83" stroke-width="1.8"/>
<text x="48.5" y="618.5" text-anchor="middle" font-size="12.8" fill="#b97a83" textLength="10.5" lengthAdjust="spacingAndGlyphs">51</text>
<circle cx="149" cy="539.6" r="8.3" fill="#fdf1f2" stroke="#977f83" stroke-width="1.8"/>
<text x="149" y="544.1" text-anchor="middle" font-size="12.8" fill="#b97a83" textLength="10.5" lengthAdjust="spacingAndGlyphs">53</text>
<circle cx="149" cy="564.4" r="8.3" fill="#fdf1f2" stroke="#977f83" stroke-width="1.8"/>
<text x="149" y="568.9" text-anchor="middle" font-size="12.8" fill="#b97a83" textLength="10.5" lengthAdjust="spacingAndGlyphs">57</text>
<circle cx="149" cy="589.6" r="8.3" fill="#fdf1f2" stroke="#977f83" stroke-width="1.8"/>
<text x="149" y="594.1" text-anchor="middle" font-size="12.8" fill="#b97a83" textLength="10.5" lengthAdjust="spacingAndGlyphs">55</text>
<circle cx="149" cy="615" r="8.3" fill="#fdf1f2" stroke="#977f83" stroke-width="1.8"/>
<text x="149" y="619.5" text-anchor="middle" font-size="12.8" fill="#b97a83" textLength="10.5" lengthAdjust="spacingAndGlyphs">65</text>
<circle cx="250" cy="60.2" r="8.3" fill="#fdf1f2" stroke="#977f83" stroke-width="1.8"/>
<text x="250" y="64.7" text-anchor="middle" font-size="12.8" fill="#b97a83" textLength="10.5" lengthAdjust="spacingAndGlyphs">09</text>
<circle cx="250" cy="85.3" r="8.3" fill="#fdf1f2" stroke="#977f83" stroke-width="1.8"/>
<text x="250" y="89.8" text-anchor="middle" font-size="12.8" fill="#b97a83" textLength="10.5" lengthAdjust="spacingAndGlyphs">10</text>
<circle cx="250" cy="136" r="8.3" fill="#fdf1f2" stroke="#977f83" stroke-width="1.8"/>
<text x="250" y="140.5" text-anchor="middle" font-size="12.8" fill="#b97a83" textLength="10.5" lengthAdjust="spacingAndGlyphs">07</text>
<circle cx="250" cy="161" r="8.3" fill="#fdf1f2" stroke="#977f83" stroke-width="1.8"/>
<text x="250" y="165.5" text-anchor="middle" font-size="12.8" fill="#b97a83" textLength="10.5" lengthAdjust="spacingAndGlyphs">08</text>
<circle cx="223.3" cy="363.3" r="8.3" fill="#fdf1f2" stroke="#977f83" stroke-width="1.8"/>
<text x="223.3" y="367.8" text-anchor="middle" font-size="12.8" fill="#b97a83" textLength="10.5" lengthAdjust="spacingAndGlyphs">27</text>
<circle cx="223.3" cy="388" r="8.3" fill="#fdf1f2" stroke="#977f83" stroke-width="1.8"/>
<text x="223.3" y="392.5" text-anchor="middle" font-size="12.8" fill="#b97a83" textLength="10.5" lengthAdjust="spacingAndGlyphs">28</text>
<circle cx="223.3" cy="438" r="8.3" fill="#fdf1f2" stroke="#977f83" stroke-width="1.8"/>
<text x="223.3" y="442.5" text-anchor="middle" font-size="12.8" fill="#b97a83" textLength="10.5" lengthAdjust="spacingAndGlyphs">29</text>
<circle cx="223.3" cy="464.5" r="8.3" fill="#fdf1f2" stroke="#977f83" stroke-width="1.8"/>
<text x="223.3" y="469.0" text-anchor="middle" font-size="12.8" fill="#b97a83" textLength="10.5" lengthAdjust="spacingAndGlyphs">31</text>
<circle cx="223.3" cy="488.5" r="8.3" fill="#fdf1f2" stroke="#977f83" stroke-width="1.8"/>
<text x="223.3" y="493.0" text-anchor="middle" font-size="12.8" fill="#b97a83" textLength="10.5" lengthAdjust="spacingAndGlyphs">30</text>
<circle cx="300.7" cy="162.7" r="8.3" fill="#fdf1f2" stroke="#977f83" stroke-width="1.8"/>
<text x="300.7" y="167.2" text-anchor="middle" font-size="12.8" fill="#b97a83" textLength="10.5" lengthAdjust="spacingAndGlyphs">66</text>
<circle cx="300.7" cy="187.7" r="8.3" fill="#fdf1f2" stroke="#977f83" stroke-width="1.8"/>
<text x="300.7" y="192.2" text-anchor="middle" font-size="12.8" fill="#b97a83" textLength="10.5" lengthAdjust="spacingAndGlyphs">64</text>
<circle cx="300.7" cy="211.7" r="8.3" fill="#fdf1f2" stroke="#977f83" stroke-width="1.8"/>
<text x="300.7" y="216.2" text-anchor="middle" font-size="12.8" fill="#b97a83" textLength="10.5" lengthAdjust="spacingAndGlyphs">61</text>
<circle cx="300.7" cy="236.7" r="8.3" fill="#fdf1f2" stroke="#977f83" stroke-width="1.8"/>
<text x="300.7" y="241.2" text-anchor="middle" font-size="12.8" fill="#b97a83" textLength="10.5" lengthAdjust="spacingAndGlyphs">60</text>
<circle cx="300.7" cy="262.7" r="8.3" fill="#fdf1f2" stroke="#977f83" stroke-width="1.8"/>
<text x="300.7" y="267.2" text-anchor="middle" font-size="12.8" fill="#b97a83" textLength="10.5" lengthAdjust="spacingAndGlyphs">54</text>
<circle cx="300.7" cy="286.7" r="8.3" fill="#fdf1f2" stroke="#977f83" stroke-width="1.8"/>
<text x="300.7" y="291.2" text-anchor="middle" font-size="12.8" fill="#b97a83" textLength="10.5" lengthAdjust="spacingAndGlyphs">58</text>
<circle cx="300.7" cy="311.7" r="8.3" fill="#fdf1f2" stroke="#977f83" stroke-width="1.8"/>
<text x="300.7" y="316.2" text-anchor="middle" font-size="12.8" fill="#b97a83" textLength="10.5" lengthAdjust="spacingAndGlyphs">56</text>
<circle cx="300.7" cy="336.7" r="8.3" fill="#fdf1f2" stroke="#977f83" stroke-width="1.8"/>
<text x="300.7" y="341.2" text-anchor="middle" font-size="12.8" fill="#b97a83" textLength="10.5" lengthAdjust="spacingAndGlyphs">52</text>
<circle cx="300.7" cy="361.7" r="8.3" fill="#fdf1f2" stroke="#977f83" stroke-width="1.8"/>
<text x="300.7" y="366.2" text-anchor="middle" font-size="12.8" fill="#b97a83" textLength="10.5" lengthAdjust="spacingAndGlyphs">50</text>
<circle cx="300" cy="468.3" r="8.3" fill="#fdf1f2" stroke="#977f83" stroke-width="1.8"/>
<text x="300" y="472.8" text-anchor="middle" font-size="12.8" fill="#b97a83" textLength="10.5" lengthAdjust="spacingAndGlyphs">22</text>
<circle cx="300" cy="516.5" r="8.3" fill="#fdf1f2" stroke="#977f83" stroke-width="1.8"/>
<text x="300" y="521.0" text-anchor="middle" font-size="12.8" fill="#b97a83" textLength="10.5" lengthAdjust="spacingAndGlyphs">21</text>
<circle cx="300" cy="541" r="8.3" fill="#fdf1f2" stroke="#977f83" stroke-width="1.8"/>
<text x="300" y="545.5" text-anchor="middle" font-size="12.8" fill="#b97a83" textLength="10.5" lengthAdjust="spacingAndGlyphs">23</text>
<circle cx="446" cy="295" r="8.3" fill="#fdf1f2" stroke="#977f83" stroke-width="1.8"/>
<text x="446" y="299.5" text-anchor="middle" font-size="12.8" fill="#b97a83" textLength="10.5" lengthAdjust="spacingAndGlyphs">48</text>
<circle cx="476.3" cy="51" r="8.3" fill="#fdf1f2" stroke="#977f83" stroke-width="1.8"/>
<text x="476.3" y="55.5" text-anchor="middle" font-size="12.8" fill="#b97a83" textLength="10.5" lengthAdjust="spacingAndGlyphs">45</text>
<circle cx="476.3" cy="75.6" r="8.3" fill="#fdf1f2" stroke="#977f83" stroke-width="1.8"/>
<text x="476.3" y="80.1" text-anchor="middle" font-size="12.8" fill="#b97a83" textLength="5.5" lengthAdjust="spacingAndGlyphs">4</text>
<circle cx="476.3" cy="303" r="8.3" fill="#fdf1f2" stroke="#977f83" stroke-width="1.8"/>
<text x="476.3" y="307.5" text-anchor="middle" font-size="12.8" fill="#b97a83" textLength="10.5" lengthAdjust="spacingAndGlyphs">34</text>
<circle cx="476.3" cy="453.4" r="8.3" fill="#fdf1f2" stroke="#977f83" stroke-width="1.8"/>
<text x="476.3" y="457.9" text-anchor="middle" font-size="12.8" fill="#b97a83" textLength="10.5" lengthAdjust="spacingAndGlyphs">37</text>
<circle cx="544" cy="543.5" r="8.3" fill="#fdf1f2" stroke="#977f83" stroke-width="1.8"/>
<text x="544" y="548.0" text-anchor="middle" font-size="12.8" fill="#b97a83" textLength="10.5" lengthAdjust="spacingAndGlyphs">82</text>
<circle cx="544" cy="568" r="8.3" fill="#fdf1f2" stroke="#977f83" stroke-width="1.8"/>
<text x="544" y="572.5" text-anchor="middle" font-size="12.8" fill="#b97a83" textLength="10.5" lengthAdjust="spacingAndGlyphs">80</text>
<circle cx="544" cy="594" r="8.3" fill="#fdf1f2" stroke="#977f83" stroke-width="1.8"/>
<text x="544" y="598.5" text-anchor="middle" font-size="12.8" fill="#b97a83" textLength="10.5" lengthAdjust="spacingAndGlyphs">81</text>
<circle cx="544" cy="618.7" r="8.3" fill="#fdf1f2" stroke="#977f83" stroke-width="1.8"/>
<text x="544" y="623.2" text-anchor="middle" font-size="12.8" fill="#b97a83" textLength="10.5" lengthAdjust="spacingAndGlyphs">83</text>
<circle cx="700" cy="463" r="8.3" fill="#fdf1f2" stroke="#977f83" stroke-width="1.8"/>
<text x="700" y="467.5" text-anchor="middle" font-size="12.8" fill="#b97a83" textLength="10.5" lengthAdjust="spacingAndGlyphs">79</text>
<circle cx="700" cy="502.5" r="8.3" fill="#fdf1f2" stroke="#977f83" stroke-width="1.8"/>
<text x="700" y="507.0" text-anchor="middle" font-size="12.8" fill="#b97a83" textLength="10.5" lengthAdjust="spacingAndGlyphs">91</text>
<circle cx="700" cy="524.7" r="8.3" fill="#fdf1f2" stroke="#977f83" stroke-width="1.8"/>
<text x="700" y="529.2" text-anchor="middle" font-size="12.8" fill="#b97a83" textLength="10.5" lengthAdjust="spacingAndGlyphs">03</text>
<circle cx="700" cy="550" r="8.3" fill="#fdf1f2" stroke="#977f83" stroke-width="1.8"/>
<text x="700" y="554.5" text-anchor="middle" font-size="12.8" fill="#b97a83" textLength="10.5" lengthAdjust="spacingAndGlyphs">04</text>
<circle cx="700" cy="574" r="8.3" fill="#fdf1f2" stroke="#977f83" stroke-width="1.8"/>
<text x="700" y="578.5" text-anchor="middle" font-size="12.8" fill="#b97a83" textLength="10.5" lengthAdjust="spacingAndGlyphs">77</text>
<circle cx="700" cy="597.5" r="8.3" fill="#fdf1f2" stroke="#977f83" stroke-width="1.8"/>
<text x="700" y="602.0" text-anchor="middle" font-size="12.8" fill="#b97a83" textLength="10.5" lengthAdjust="spacingAndGlyphs">01</text>
<circle cx="700" cy="622" r="8.3" fill="#fdf1f2" stroke="#977f83" stroke-width="1.8"/>
<text x="700" y="626.5" text-anchor="middle" font-size="12.8" fill="#b97a83" textLength="10.5" lengthAdjust="spacingAndGlyphs">78</text>
<circle cx="700" cy="643.3" r="8.3" fill="#fdf1f2" stroke="#977f83" stroke-width="1.8"/>
<text x="700" y="647.8" text-anchor="middle" font-size="12.8" fill="#b97a83" textLength="10.5" lengthAdjust="spacingAndGlyphs">02</text>
</g>
</svg>
</body></html>
